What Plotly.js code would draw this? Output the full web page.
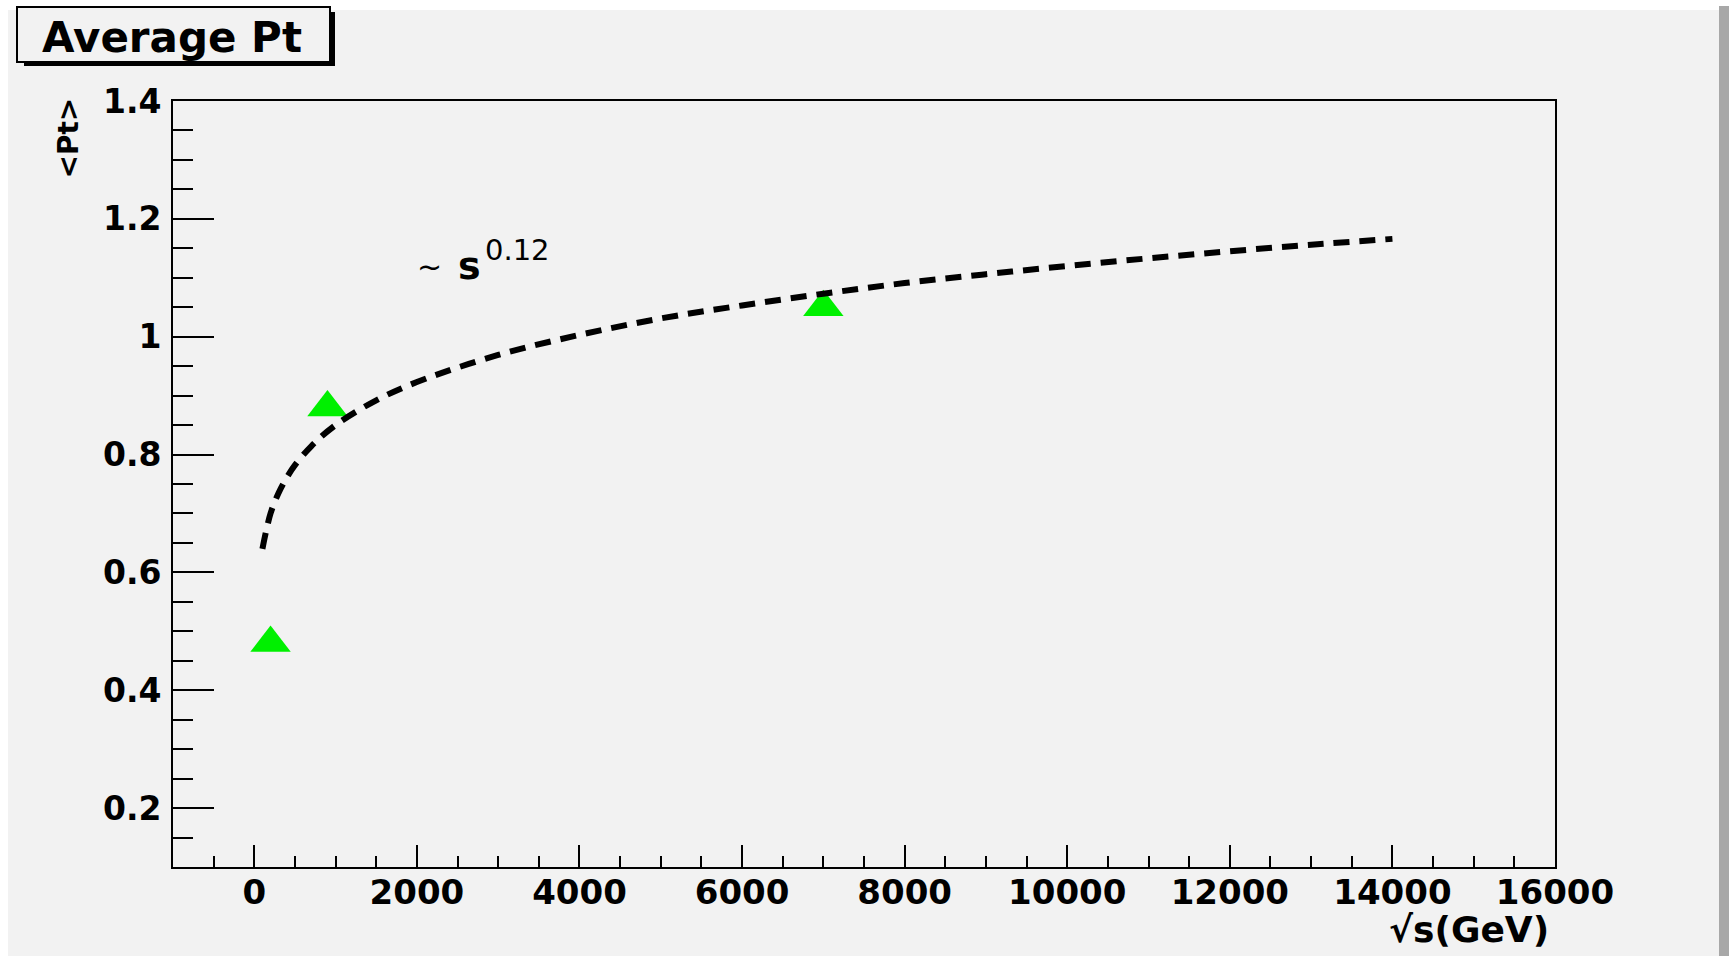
<!DOCTYPE html>
<html>
<head>
<meta charset="utf-8">
<script src="https://cdn.plot.ly/plotly-3.0.1.min.js"></script>
<style>html,body{margin:0;padding:0;background:#f2f2f2;}#chart{width:1729px;height:956px;}</style>
</head>
<body>
<div id="chart"></div>
<script>
// Data
const energies = [200, 900, 7000];            // sqrt(s) in GeV
const meanPt = [0.48, 0.88, 1.05];            // <Pt>
const fitEnergies = [100, 200, 300, 400, 500, 700, 1000, 1500, 2000, 3000, 4000, 5000, 6000, 7000, 8000, 9000, 10000, 11000, 12000, 13000, 14000];
const fitPt = [0.640, 0.700, 0.735, 0.761, 0.782, 0.814, 0.850, 0.892, 0.923, 0.969, 1.003, 1.031, 1.053, 1.073, 1.091, 1.106, 1.120, 1.133, 1.145, 1.156, 1.166];
const xTickVals = [0, 2000, 4000, 6000, 8000, 10000, 12000, 14000, 16000];
const xTickText = ['0', '2000', '4000', '6000', '8000', '10000', '12000', '14000', '16000'];
const yTickVals = [0.2, 0.4, 0.6, 0.8, 1.0, 1.2, 1.4];
const yTickText = ['0.2', '0.4', '0.6', '0.8', '1', '1.2', '1.4'];
const chartTitle = 'Average Pt';
const xTitle = '\u221As(GeV)';
const yTitle = '&lt;Pt&gt;';

// geometry helpers (pixel -> paper)
const W = 1729, H = 956, L = 173, R = 1555, T = 101, B = 867;
const px = v => (v - L) / (R - L);
const py = v => (B - v) / (B - T);

const font = 'DejaVu Sans';

const traces = [
  {
    x: energies, y: meanPt, type: 'scatter', mode: 'markers',
    marker: {symbol: 'triangle-up', size: 35, color: '#00f000', line: {width: 0}},
    hoverinfo: 'x+y', showlegend: false
  },
  {
    x: fitEnergies, y: fitPt, type: 'scatter', mode: 'lines',
    line: {color: '#000000', width: 6, dash: '16px,10px', shape: 'spline'},
    hoverinfo: 'skip', showlegend: false
  }
];

const layout = {
  width: W, height: H,
  margin: {l: L, r: W - R, t: T, b: H - B, pad: 0},
  paper_bgcolor: '#f2f2f2', plot_bgcolor: '#f2f2f2',
  showlegend: false,
  xaxis: {
    range: [-1000, 16000], autorange: false,
    tickmode: 'array', tickvals: xTickVals, ticktext: xTickText,
    ticks: 'inside', ticklen: 22, tickwidth: 2, tickcolor: '#000',
    minor: {tickmode: 'linear', tick0: 0, dtick: 500, ticks: 'inside', ticklen: 11, tickwidth: 2, tickcolor: '#000', showgrid: false},
    showline: true, linecolor: '#000', linewidth: 2, mirror: true,
    showgrid: false, zeroline: false,
    tickfont: {family: font, size: 34, weight: 'bold', color: '#000'},
    ticklabelstandoff: -6
  },
  yaxis: {
    range: [0.1, 1.4], autorange: false,
    tickmode: 'array', tickvals: yTickVals, ticktext: yTickText,
    ticks: 'inside', ticklen: 41, tickwidth: 2, tickcolor: '#000',
    minor: {tickmode: 'linear', tick0: 0, dtick: 0.05, ticks: 'inside', ticklen: 20, tickwidth: 2, tickcolor: '#000', showgrid: false},
    showline: true, linecolor: '#000', linewidth: 2, mirror: true,
    showgrid: false, zeroline: false,
    tickfont: {family: font, size: 33, weight: 'bold', color: '#000'},
    ticklabelstandoff: 3
  },
  shapes: [
    // white strip at top and left of the window
    {type: 'rect', xref: 'paper', yref: 'paper', x0: px(0), x1: px(W), y0: py(10), y1: py(0), fillcolor: '#ffffff', line: {width: 0}, layer: 'below'},
    {type: 'rect', xref: 'paper', yref: 'paper', x0: px(0), x1: px(8), y0: py(H), y1: py(0), fillcolor: '#ffffff', line: {width: 0}, layer: 'below'},
    // grey bar at right edge
    {type: 'rect', xref: 'paper', yref: 'paper', x0: px(1719), x1: px(W), y0: py(H), y1: py(6), fillcolor: '#a8a8a8', line: {width: 0}},
    // title box shadow
    {type: 'rect', xref: 'paper', yref: 'paper', x0: px(24), x1: px(335), y0: py(66), y1: py(12), fillcolor: '#000000', line: {width: 0}},
    // title box
    {type: 'rect', xref: 'paper', yref: 'paper', x0: px(17), x1: px(330), y0: py(62), y1: py(7), fillcolor: '#f2f2f2', line: {color: '#000', width: 2}}
  ],
  annotations: [
    {text: chartTitle, xref: 'paper', yref: 'paper', x: px(172), y: py(37), xanchor: 'center', yanchor: 'middle', showarrow: false,
     font: {family: font, size: 42, weight: 'bold', color: '#000'}},
    {text: yTitle, xref: 'paper', yref: 'paper', x: px(68), y: py(96), xanchor: 'center', yanchor: 'top', textangle: -90, showarrow: false,
     font: {family: font, size: 28, weight: 'bold', color: '#000'}},
    {text: xTitle, xref: 'paper', yref: 'paper', x: px(1551), y: py(930), xanchor: 'right', yanchor: 'middle', showarrow: false,
     font: {family: font, size: 36, weight: 'bold', color: '#000'}},
    {text: '~', xref: 'paper', yref: 'paper', x: px(429), y: py(266), xanchor: 'center', yanchor: 'middle', showarrow: false,
     font: {family: font, size: 30, color: '#000'}},
    {text: 's', xref: 'paper', yref: 'paper', x: px(456), y: py(266), xanchor: 'left', yanchor: 'middle', showarrow: false,
     font: {family: font, size: 38, weight: 'bold', color: '#000'}},
    {text: '0.12', xref: 'paper', yref: 'paper', x: px(483), y: py(250), xanchor: 'left', yanchor: 'middle', showarrow: false,
     font: {family: font, size: 29, color: '#000'}}
  ]
};

Plotly.newPlot('chart', traces, layout, {displayModeBar: false, staticPlot: true});
</script>
</body>
</html>
